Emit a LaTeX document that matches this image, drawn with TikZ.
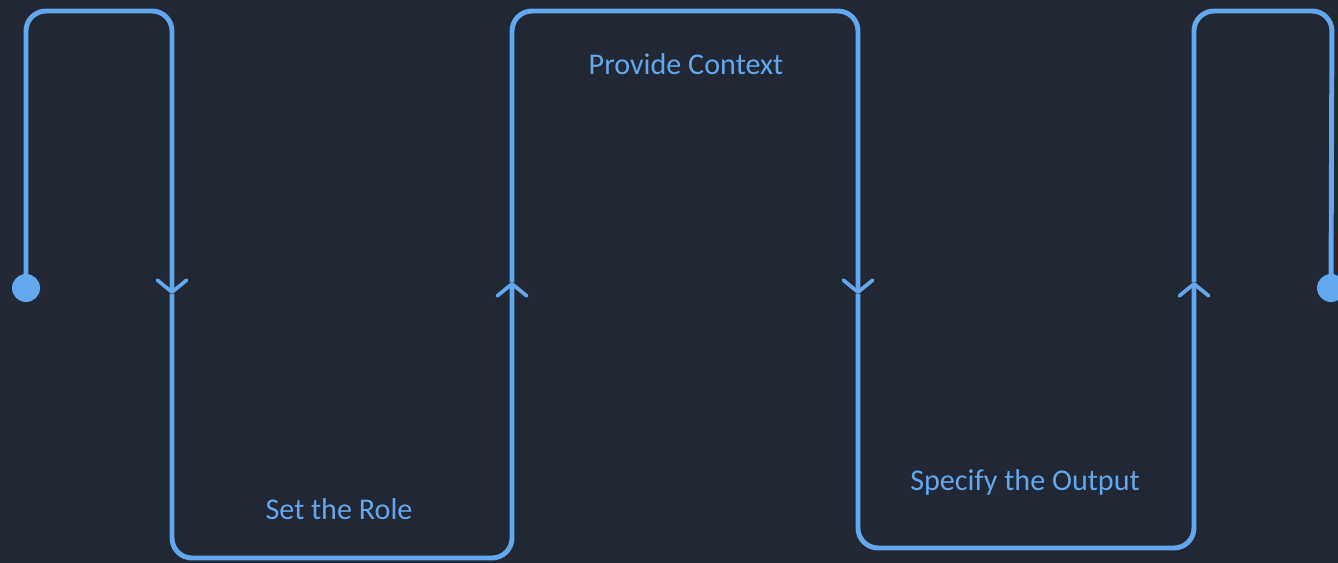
\documentclass[tikz,border=0pt]{standalone}
\usepackage{fontspec}
\setmainfont{Carlito}
\usetikzlibrary{arrows.meta}

\definecolor{bgdark}{HTML}{212733}
\definecolor{lineblue}{HTML}{62A8EE}

\tikzset{
  flow/.style={draw=lineblue, line width=3.7pt, rounded corners=15pt},
  tip/.style={-{Straight Barb[length=9pt, width=22pt, line width=2.8pt, round]}},
  endpoint/.style={circle, fill=lineblue, inner sep=0pt, minimum size=21pt},
  steplabel/.style={text=lineblue, anchor=base, font=\fontsize{22.6}{27}\selectfont}
}

\begin{document}
\begin{tikzpicture}[x=0.75pt, y=-0.75pt]
	\fill[bgdark] (0,0) rectangle (1338,563);
	\useasboundingbox (0,0) rectangle (1338,563);

	\coordinate (start)  at (26,288);
	\coordinate (turn1)  at (172,294);
	\coordinate (turn2)  at (512,282);
	\coordinate (turn3)  at (858,294);
	\coordinate (turn4)  at (1194,282);
	\coordinate (finish) at (1331,288);

	% the wave
	\draw[flow, tip] (start) |- (172,11) -- (turn1);
	\draw[flow, tip] (turn1) |- (512,558) -- (turn2);
	\draw[flow, tip] (turn2) |- (858,11) -- (turn3);
	\draw[flow, tip] (turn3) |- (1194,548) -- (turn4);
	\draw[flow] (turn4) |- (1332,11) -- (finish);

	\node[endpoint] (startdot)  at (start)  {};
	\node[endpoint] (finishdot) at (finish) {};

	% labels
	\node[steplabel] (role)    at (339,519) {Set the Role};
	\node[steplabel] (context) at (686,75)  {Provide Context};
	\node[steplabel] (output)  at (1025,490) {Specify the Output};
\end{tikzpicture}
\end{document}
